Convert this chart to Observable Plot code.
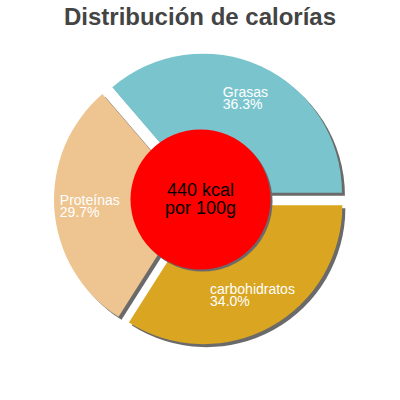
<!DOCTYPE html>
<html><head><meta charset="utf-8">
<script src="https://cdn.jsdelivr.net/npm/d3@7"></script>
<script src="https://cdn.jsdelivr.net/npm/@observablehq/plot@0.6"></script>
<style>
body{margin:0;background:#fff;width:400px;height:400px;overflow:hidden}
#title{height:34px;text-align:center;font:bold 24px "Liberation Sans",Arial,sans-serif;line-height:34px;color:#444;}
#chart svg{display:block}
</style></head><body>
<div id="title">Distribución de calorías</div>
<div id="chart"></div>
<script>
// Data (order starts at 3 o'clock, clockwise)
const categories = ["carbohidratos", "Proteínas", "Grasas"];
const percents = [34.0, 29.7, 36.3];
const colors = ["#DAA520", "#EEC591", "#7AC5CD"];
const centerLines = ["440 kcal", "por 100g"];

const W = 400, H = 366;
const R = 139, E = 7, LR = 110, INNER = 70, SH = 3;
const LABEL_FONT = 14;

const data = categories.map((c, i) => ({category: c, value: percents[i]}));
const pie = d3.pie().sort(null).value(d => d.value)
  .startAngle(Math.PI / 2).endAngle(Math.PI / 2 + 2 * Math.PI);
const slices = pie(data);

function sliceMark(shadow) {
  return (index, scales) => {
    const g = d3.create("svg:g");
    const x0 = scales.x(0), y0 = scales.y(0);
    const pr = scales.x(R) - x0;
    const e = scales.x(E) - x0;
    const arc = d3.arc().innerRadius(0).outerRadius(pr);
    slices.forEach((s, i) => {
      const mid = (s.startAngle + s.endAngle) / 2;
      const tx = x0 + e * Math.sin(mid) + (shadow ? SH : 0);
      const ty = y0 - e * Math.cos(mid) + (shadow ? SH : 0);
      const fill = shadow ? "#6a6a6a" : (scales.color ? scales.color(s.data.category) : colors[i]);
      g.append("path").attr("d", arc(s)).attr("transform", `translate(${tx},${ty})`).attr("fill", fill);
    });
    return g.node();
  };
}

const ctx = document.createElement("canvas").getContext("2d");
ctx.font = `${LABEL_FONT}px 'Liberation Sans'`;
const labelData = slices.map(s => {
  const mid = (s.startAngle + s.endAngle) / 2;
  const lines = [s.data.category, s.data.value.toFixed(1) + "%"];
  const w = Math.max(...lines.map(l => ctx.measureText(l).width));
  return {text: lines.join("\n"), x: LR * Math.sin(mid) - w / 2, y: LR * Math.cos(mid)};
});

const chart = Plot.plot({
  width: W, height: H, margin: 0,
  x: {domain: [-200, 200], range: [0, 400], axis: null},
  y: {domain: [-201, 165], range: [366, 0], axis: null},
  color: {domain: categories, range: colors},
  style: {background: "transparent", overflow: "visible"},
  marks: [
    sliceMark(true),
    sliceMark(false),
    Plot.dot([0], {x: 0, y: 0, r: INNER, fill: "#6a6a6a", dx: 2, dy: 2}),
    Plot.dot([0], {x: 0, y: 0, r: INNER, fill: "#ff0000"}),
    Plot.text(labelData, {x: "x", y: "y", text: "text", textAnchor: "start", lineAnchor: "middle",
      dx: -1, lineHeight: 12 / LABEL_FONT, fontSize: LABEL_FONT, fontFamily: "Liberation Sans, Arial", fill: "white"}),
    Plot.text([centerLines.join("\n")], {x: 0, y: 0, text: d => d, textAnchor: "middle", lineAnchor: "middle",
      lineHeight: 1, fontSize: 18, fontFamily: "Liberation Sans, Arial", fill: "black"})
  ]
});
document.getElementById("chart").appendChild(chart);
</script>
</body></html>
